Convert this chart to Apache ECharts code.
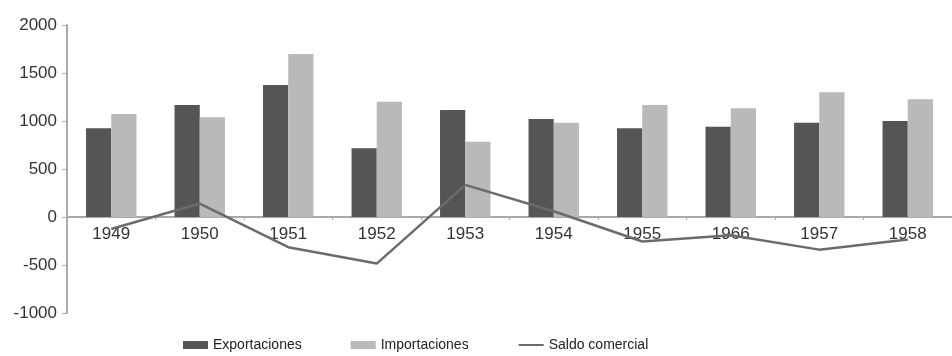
<!DOCTYPE html>
<html>
<head>
<meta charset="utf-8">
<script src="https://cdn.jsdelivr.net/npm/echarts@6/dist/echarts.min.js"></script>
<style>
  html, body { margin: 0; padding: 0; background: #fff; }
  #chart { width: 952px; height: 356px; }
</style>
</head>
<body>
<div id="chart"></div>
<script>
// Comercio exterior, 1949-1958
const years = ['1949', '1950', '1951', '1952', '1953', '1954', '1955', '1966', '1957', '1958'];
const exportaciones = [924, 1167, 1375, 716, 1115, 1021, 924, 941, 982, 1000];
const importaciones = [1073, 1038, 1698, 1201, 784, 982, 1167, 1132, 1299, 1226];
const saldoComercial = [-125, 140, -315, -485, 335, 60, -255, -190, -340, -235];
const yTicks = [-1000, -500, 0, 500, 1000, 1500, 2000];

const yMin = yTicks[0];
const yMax = yTicks[yTicks.length - 1];
const gridTop = 25;
const gridHeight = 288;
// shift the category axis up from the grid bottom to the zero line
const zeroOffset = -gridHeight * (0 - yMin) / (yMax - yMin);

const chart = echarts.init(document.getElementById('chart'), null, { renderer: 'canvas' });
const font = 'Liberation Sans, Arial, sans-serif';

chart.setOption({
  animation: false,
  backgroundColor: '#ffffff',
  grid: { left: 67, top: gridTop, height: gridHeight, width: 897, containLabel: false },
  legend: {
    left: 178,
    top: 333,
    itemGap: 49,
    itemWidth: 25,
    itemHeight: 8,
    textStyle: { fontFamily: font, fontSize: 14, color: '#222' },
    data: [
      { name: 'Exportaciones', icon: 'rect' },
      { name: 'Importaciones', icon: 'rect' },
      { name: 'Saldo comercial', itemStyle: { opacity: 0 } }
    ]
  },
  xAxis: {
    type: 'category',
    data: years,
    boundaryGap: true,
    offset: zeroOffset,
    axisLine: { onZero: false, lineStyle: { color: '#a9a9a9', width: 2 } },
    axisTick: { show: true, length: 3, lineStyle: { color: '#a9a9a9' } },
    axisLabel: { fontFamily: font, fontSize: 17, color: '#333', margin: 9 },
    splitLine: { show: false }
  },
  yAxis: {
    type: 'value',
    min: yMin,
    max: yMax,
    interval: 500,
    axisLine: { show: true, lineStyle: { color: '#a9a9a9', width: 2 } },
    axisTick: { show: true, length: 5, lineStyle: { color: '#a9a9a9' } },
    axisLabel: { fontFamily: font, fontSize: 17, color: '#333', margin: 10, formatter: (v) => String(v) },
    splitLine: { show: false }
  },
  series: [
    {
      name: 'Exportaciones',
      type: 'bar',
      data: exportaciones,
      barGap: '0%',
      barCategoryGap: '43%',
      itemStyle: { color: '#555555' }
    },
    {
      name: 'Importaciones',
      type: 'bar',
      data: importaciones,
      itemStyle: { color: '#b9b9b9' }
    },
    {
      name: 'Saldo comercial',
      type: 'line',
      data: saldoComercial,
      symbol: 'none',
      lineStyle: { color: '#6b6b6b', width: 2.5 },
      itemStyle: { color: '#6b6b6b' },
      z: 5
    }
  ]
});
</script>
</body>
</html>
